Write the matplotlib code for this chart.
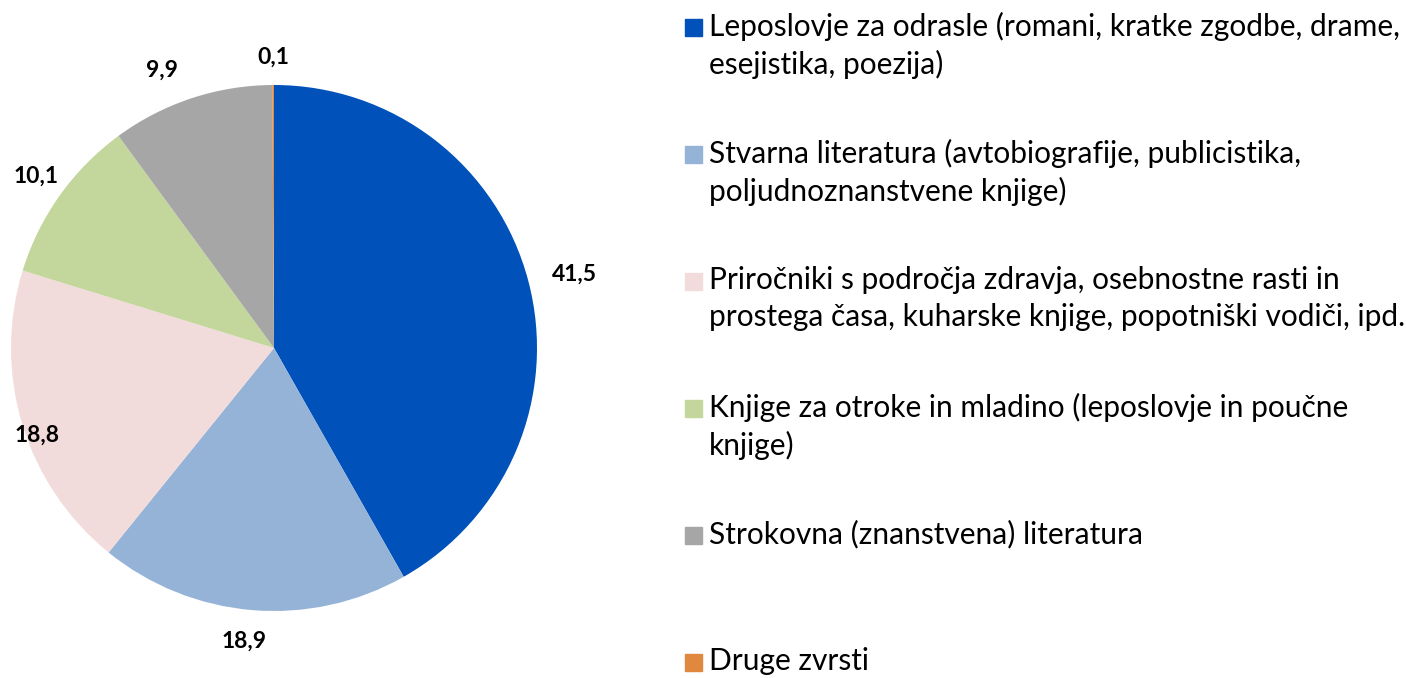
import matplotlib.pyplot as plt
import numpy as np
from matplotlib.patches import Rectangle

categories = [
    "Leposlovje za odrasle (romani, kratke zgodbe, drame,\nesejistika, poezija)",
    "Stvarna literatura (avtobiografije, publicistika,\npoljudnoznanstvene knjige)",
    "Priročniki s področja zdravja, osebnostne rasti in\nprostega časa, kuharske knjige, popotniški vodiči, ipd.",
    "Knjige za otroke in mladino (leposlovje in poučne\nknjige)",
    "Strokovna (znanstvena) literatura",
    "Druge zvrsti",
]
values = [41.5, 18.9, 18.8, 10.1, 9.9, 0.1]
value_labels = ["41,5", "18,9", "18,8", "10,1", "9,9", "0,1"]
colors = ["#0052BA", "#95B3D7", "#F2DCDB", "#C3D69B", "#A6A6A6", "#E0883E"]

# label placement: distance from centre (in radii) and angular nudge (deg, clockwise)
label_r = [1.175, 1.12, 0.96, 1.114, 1.14, 1.105]
label_nudge = [0.9, 1.1, -3.2, 0.4, -3.6, 0.0]

plt.rcParams['font.family'] = ['Lato', 'DejaVu Sans']

fig = plt.figure(figsize=(14.06, 6.78), dpi=100)
ax = fig.add_axes([11 / 1406, 67 / 678, 526 / 1406, 526 / 678])
wedges, _ = ax.pie(values, colors=colors, startangle=90, counterclock=False,
                   wedgeprops=dict(linewidth=0))
ax.set_xlim(-1, 1)
ax.set_ylim(-1, 1)
ax.set_aspect('equal')

for w, lab, r, nd in zip(wedges, value_labels, label_r, label_nudge):
    mid = np.deg2rad((w.theta1 + w.theta2) / 2 - nd)
    ax.text(r * np.cos(mid), r * np.sin(mid), lab, ha='center', va='center',
            fontsize=16.5, fontweight='bold')

# legend drawn by hand so that the square sits on the first line
y0 = 27
step = 127
for i, (cat, col) in enumerate(zip(categories, colors)):
    y = 1 - (y0 + i * step) / 678
    fig.patches.append(Rectangle((685 / 1406, y - 8.5 / 678), 17 / 1406, 17 / 678,
                                 transform=fig.transFigure, color=col))
    fig.text(709 / 1406, y + 15 / 678, cat, ha='left', va='top', fontsize=21.5,
             linespacing=1.37)

fig.savefig("out.png", dpi=100)
